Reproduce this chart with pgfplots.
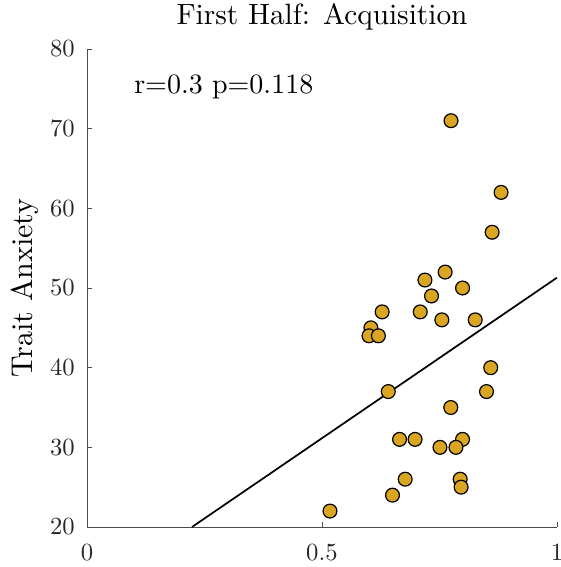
\documentclass[border=0pt]{standalone}
\usepackage{fontspec}
\setmainfont{lmroman10-regular.otf}
\usepackage{pgfplots}
\pgfplotsset{compat=1.18}
\definecolor{dotfill}{rgb}{0.855,0.647,0.125}
\newcommand\chartfont{\fontsize{18.5}{22}\selectfont}

\begin{document}
\begin{tikzpicture}
\begin{axis}[
    at={(0,0)}, anchor=south west,
    scale only axis,
    width=352.5pt, height=358.5pt,
    xmin=0, xmax=1, ymin=20, ymax=80,
    axis lines=left,
    axis line style={-, black!70, line width=0.6pt},
    tick align=inside,
    major tick length=4pt,
    tick style={black!70, line width=0.6pt},
    xtick={0,0.5,1},
    ytick={20,30,...,80},
    /pgf/number format/assume math mode=true,
    xticklabel style={font=\chartfont, anchor=base, yshift=-24.75pt, text=black!85},
    yticklabel style={font=\chartfont, anchor=east, inner sep=0pt, xshift=-9pt, text=black!85},
    title={First Half: Acquisition},
    title style={font=\fontsize{22}{26}\selectfont, at={(axis description cs:0.5,1)}, anchor=base, yshift=12.75pt, inner sep=0pt},
    ylabel={Trait Anxiety},
    ylabel style={font=\fontsize{22.5}{26}\selectfont, at={(axis description cs:-0.1149,0.5)}, anchor=base, inner sep=0pt},
    clip=false,
]

% least-squares line
\addplot[black, line width=1.3pt] coordinates {(0.2234,20) (1,51.3)};

% participants
\addplot[only marks, mark=*, mark size=5.2pt,
    mark options={fill=dotfill, draw=black, line width=0.9pt}] coordinates {
    (0.7745,71) (0.881,62) (0.862,57) (0.762,52) (0.719,51)
    (0.799,50) (0.733,49) (0.628,47) (0.709,47) (0.755,46)
    (0.826,46) (0.604,45) (0.600,44) (0.620,44) (0.859,40)
    (0.641,37) (0.850,37) (0.774,35) (0.665,31) (0.698,31)
    (0.799,31) (0.751,30) (0.785,30) (0.677,26) (0.794,26)
    (0.796,25) (0.650,24) (0.517,22)
};

\node[anchor=base west, inner sep=0pt, font=\fontsize{21}{25}\selectfont] at (axis cs:0.1,74.45) {r=0.3 p=0.118};
\end{axis}
\pgfresetboundingbox
\useasboundingbox (-65.25pt,-30pt) rectangle (354.75pt,395.25pt);
\end{tikzpicture}
\end{document}
